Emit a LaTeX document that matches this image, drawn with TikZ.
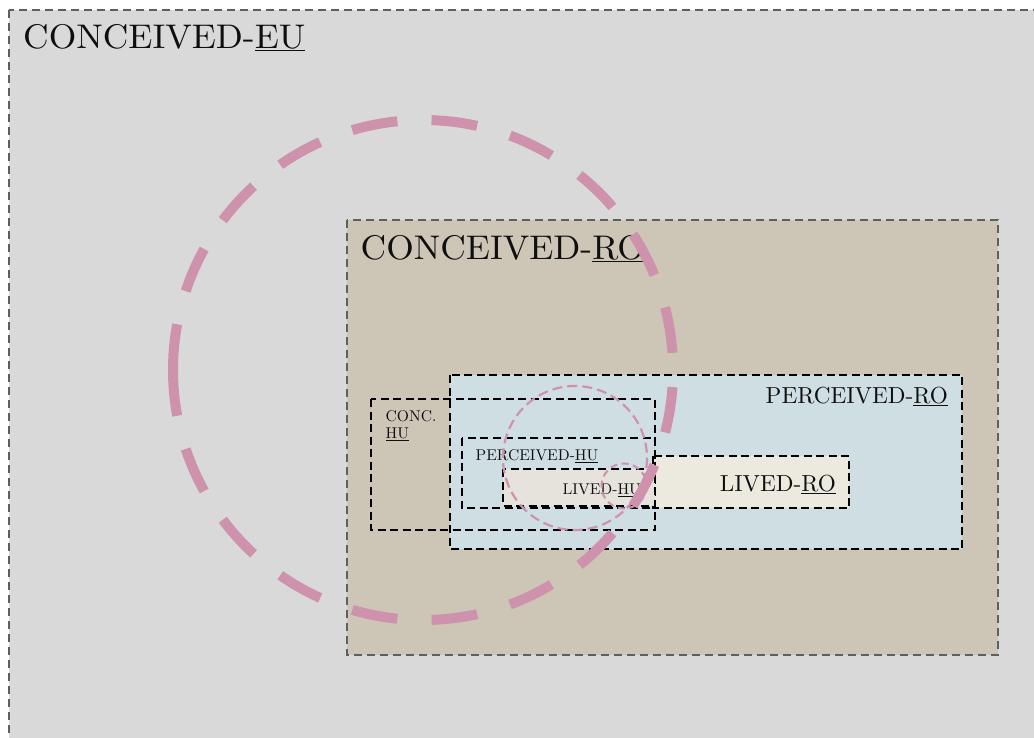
\documentclass[tikz,border=0pt]{standalone}
\usepackage{fontspec}
\setmainfont{lmroman10-regular}[Extension=.otf]
\newfontfamily\widelm{lmroman10-regular}[Extension=.otf,FakeStretch=1.035]
\begin{document}
\begin{tikzpicture}[x=1pt,y=-1pt,
  outerdash/.style={draw=edgegray,line width=1.4pt,dash pattern=on 8pt off 5pt},
  boxdash/.style={draw=black,line width=1.8pt,dash pattern=on 8pt off 4.5pt},
  bigring/.style={draw=ringpink,line width=10pt,dash pattern=on 46pt off 34.26pt},
  midring/.style={draw=ringpink,line width=2.2pt,dash pattern=on 10pt off 5.07pt},
  smallring/.style={draw=ringpink,line width=2pt,dash pattern=on 7pt off 4.5pt},
  lbl/.style={inner sep=0pt,text=txt},
  bigl/.style={lbl,font=\widelm\fontsize{34.2}{40}\selectfont},
  midl/.style={lbl,font=\fontsize{23.2}{28}\selectfont},
  smalll/.style={lbl,font=\fontsize{15.6}{17}\selectfont}]
\definecolor{edgegray}{RGB}{88,98,98}
\definecolor{outerfill}{RGB}{217,217,217}
\definecolor{conrofill}{RGB}{205,198,183}
\definecolor{perrofill}{RGB}{207,222,227}
\definecolor{livrofill}{RGB}{236,233,223}
\definecolor{livhufill}{RGB}{230,226,220}
\definecolor{ringpink}{RGB}{207,146,172}
\definecolor{txt}{RGB}{15,15,15}
\fill[white] (0,0) rectangle (1034,738);
\clip (0,0) rectangle (1034,738);
% outer
\fill[outerfill] (9,10) rectangle (1100,800);
\draw[outerdash] (9,10) rectangle (1100,800);
% conceived RO
\fill[conrofill] (347,220) rectangle (998,655);
\draw[outerdash] (347,220) rectangle (998,655);
% perceived RO
\fill[perrofill] (450,375) rectangle (962,549);
\draw[boxdash] (450,375) rectangle (962,549);
% lived RO
\fill[livrofill] (653,456) rectangle (849,508);
\draw[boxdash] (653,456) rectangle (849,508);
% conc HU
\draw[boxdash] (371,399) rectangle (655,530);
% perceived HU
\draw[boxdash] (462,438) rectangle (655,508);
% lived HU
\fill[livhufill] (503,469) rectangle (655,506);
\draw[boxdash] (503,469) rectangle (655,506);
% labels
\node[bigl,anchor=base west] (ceu) at (23,48.5) {CONCEIVED-\underline{EU}};
\node[bigl,anchor=base west] (cro) at (360.5,259.5) {CONCEIVED-\underline{RO}};
\node[midl,anchor=base east] (pro) at (948,403.3) {PERCEIVED-\underline{RO}};
\node[midl,anchor=base east] (lro) at (836,491.5) {LIVED-\underline{RO}};
\node[smalll,anchor=base west] (chu1) at (385.5,421) {CONC.};
\node[smalll,anchor=base west] (chu2) at (385.5,438) {\underline{HU}};
\node[smalll,anchor=base west] (phu) at (475.5,460) {PERCEIVED-\underline{HU}};
\node[smalll,anchor=base west] (lhu) at (562.5,494) {LIVED-\underline{HU}};
% rings
\draw[bigring] (423,370) ++(180:250) arc[start angle=180,end angle=540,radius=250];
\draw[midring] (575,458) circle[radius=72];
\draw[smallring] (624,486) circle[radius=22.5];
\end{tikzpicture}
\end{document}
